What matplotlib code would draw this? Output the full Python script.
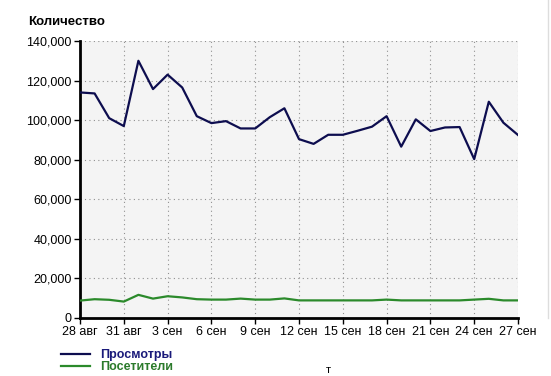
import matplotlib.pyplot as plt
from matplotlib.lines import Line2D

plt.rcParams['font.family'] = ['Liberation Sans', 'DejaVu Sans']

# days from 28 aug to 27 sep
days = list(range(31))
tick_days = [0, 3, 6, 9, 12, 15, 18, 21, 24, 27, 30]
tick_labels = ['28 авг', '31 авг', '3 сен', '6 сен', '9 сен', '12 сен',
               '15 сен', '18 сен', '21 сен', '24 сен', '27 сен']

views = [114000, 113500, 101000, 97000, 130000, 115700, 123000, 116500,
         102000, 98500, 99500, 95800, 95800, 101500, 106000, 90400, 88000,
         92600, 92600, 94600, 96700, 102000, 86600, 100400, 94500, 96300,
         96500, 80300, 109300, 98700, 92500]
visitors = [8800, 9500, 9200, 8300, 11700, 9800, 11000, 10400, 9500, 9300,
            9300, 9800, 9300, 9300, 9900, 8900, 8900, 8900, 8900, 8900, 8900,
            9300, 8900, 8900, 8900, 8900, 8900, 9300, 9700, 8900, 8900]

yticks = [0, 20000, 40000, 60000, 80000, 100000, 120000, 140000]

navy = '#0d0d4f'
green = '#2b8a2b'

fig = plt.figure(figsize=(5.51, 3.76), dpi=100)
ax = fig.add_axes([80 / 551, 1 - 318 / 376, 438 / 551, 277 / 376])
ax.set_facecolor('#f4f4f4')

ax.plot(days, views, color=navy, lw=1.6, zorder=3)
ax.plot(days, visitors, color=green, lw=1.6, zorder=3)

ax.set_xlim(0, 30)
ax.set_ylim(0, 140000)
ax.set_xticks(tick_days)
ax.set_xticklabels(tick_labels)
ax.set_yticks(yticks)
ax.set_yticklabels([f'{v:,}' for v in yticks])
ax.tick_params(labelsize=9, length=4, width=1, colors='black', pad=2)

ax.grid(True, color='#909090', linestyle=(0, (1, 3)), lw=0.8)
for s in ['top', 'right']:
    ax.spines[s].set_visible(False)
ax.spines['left'].set_linewidth(2)
ax.spines['bottom'].set_linewidth(2)

fig.text(28 / 551, 1 - 22 / 376, 'Количество', fontsize=9.5,
         fontweight='bold', va='center', ha='left')

# legend
handles = [Line2D([], [], color=navy, lw=1.6),
           Line2D([], [], color=green, lw=1.6)]
leg = fig.legend(handles, ['Просмотры', 'Посетители'],
                 loc='upper left', bbox_to_anchor=(50 / 551, 1 - 338 / 376),
                 frameon=False, handlelength=2.3, handletextpad=0.8,
                 labelspacing=0.0, prop={'weight': 'bold', 'size': 9})
leg.get_texts()[0].set_color('#1a1a7a')
leg.get_texts()[1].set_color('#2b7a2b')

# page leftovers at the right edge
fig.add_artist(Line2D([548 / 551, 548 / 551], [1 - 318 / 376, 1], color='#dddddd', lw=1))
fig.text(328 / 551, 1 - 370 / 376, 'т', fontsize=8, ha='center', va='center')

fig.savefig('out.png', dpi=100)
